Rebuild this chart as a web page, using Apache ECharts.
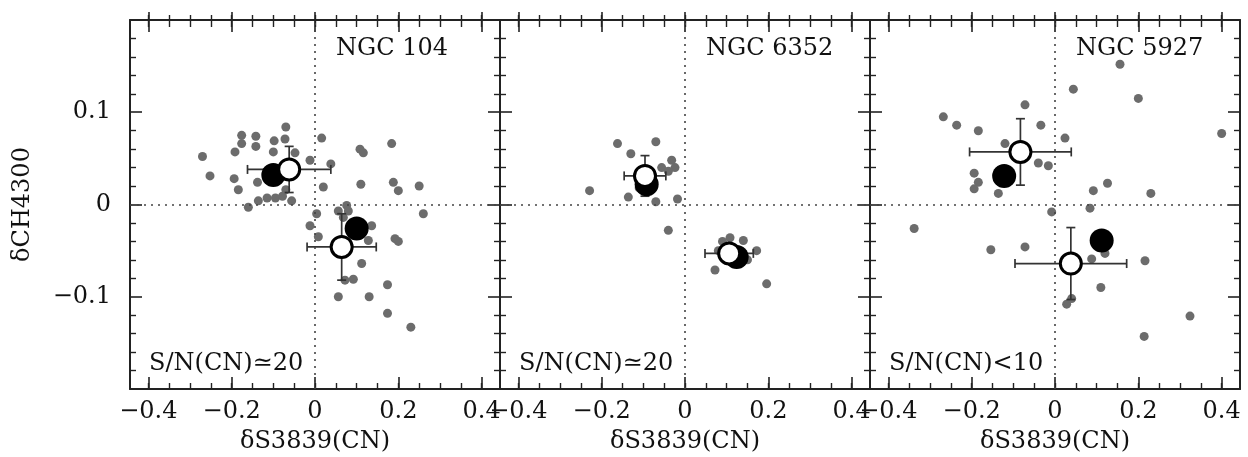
<!DOCTYPE html>
<html>
<head>
<meta charset="utf-8">
<script src="https://cdn.jsdelivr.net/npm/echarts@6/dist/echarts.min.js"></script>
<style>
html,body{margin:0;padding:0;background:#fff;}
#chart{width:1248px;height:457px;}
</style>
</head>
<body>
<div id="chart"></div>
<script>
// ---------- data ----------
const panelNames = ['NGC 104', 'NGC 6352', 'NGC 5927'];
const snLabels = ['S/N(CN)\u224320', 'S/N(CN)\u224320', 'S/N(CN)<10'];
const xTitle = '\u03b4S3839(CN)';
const yTitle = '\u03b4CH4300';
const xMajorTicks = [-0.4, -0.2, 0, 0.2, 0.4];
const xMinorTicks = [-0.4, -0.35, -0.3, -0.25, -0.2, -0.15, -0.1, -0.05, 0, 0.05, 0.1, 0.15, 0.2, 0.25, 0.3, 0.35, 0.4];
const yTickLabels = [-0.1, 0, 0.1];

// NGC 104 stars
const stars104 = [
  [-0.270, 0.052], [-0.252, 0.031], [-0.176, 0.075], [-0.176, 0.066], [-0.142, 0.074],
  [-0.142, 0.063], [-0.192, 0.057], [-0.194, 0.028], [-0.184, 0.016], [-0.138, 0.024],
  [-0.098, 0.069], [-0.070, 0.084], [-0.072, 0.071], [-0.100, 0.057], [-0.048, 0.056],
  [-0.160, -0.003], [-0.136, 0.004], [-0.115, 0.007], [-0.095, 0.007], [-0.078, 0.009],
  [-0.056, 0.004], [-0.070, 0.016], [-0.012, 0.048], [0.016, 0.072], [0.038, 0.044],
  [0.020, 0.019], [0.108, 0.060], [0.116, 0.056], [0.184, 0.066], [0.110, 0.022],
  [0.188, 0.024], [0.200, 0.015], [0.250, 0.020], [0.260, -0.010], [0.004, -0.010],
  [-0.012, -0.023], [0.008, -0.035], [0.056, -0.007], [0.076, -0.001], [0.080, -0.007],
  [0.068, -0.014], [0.136, -0.023], [0.128, -0.039], [0.192, -0.037], [0.200, -0.040],
  [0.112, -0.064], [0.072, -0.082], [0.092, -0.081], [0.174, -0.087], [0.056, -0.100],
  [0.130, -0.100], [0.174, -0.118], [0.230, -0.133]
];
const filled104 = [[-0.100, 0.032], [0.100, -0.026]];
const open104 = [[-0.062, 0.038, 0.100, 0.025], [0.064, -0.046, 0.083, 0.036]];

// NGC 6352 stars
const stars6352 = [
  [-0.162, 0.066], [-0.070, 0.068], [-0.130, 0.055], [-0.229, 0.015], [-0.136, 0.008],
  [-0.070, 0.003], [-0.018, 0.006], [-0.040, -0.028], [-0.056, 0.040], [-0.032, 0.048],
  [-0.024, 0.040], [-0.040, 0.036], [-0.110, 0.018], [-0.080, 0.020],
  [0.072, -0.071], [0.196, -0.086], [0.108, -0.036], [0.140, -0.039], [0.172, -0.050],
  [0.090, -0.040], [0.150, -0.060], [0.080, -0.050]
];
const filled6352 = [[-0.092, 0.022], [0.124, -0.057]];
const open6352 = [[-0.096, 0.031, 0.050, 0.022], [0.106, -0.053, 0.058, 0.008]];

// NGC 5927 stars
const stars5927 = [
  [0.156, 0.152], [0.044, 0.125], [0.200, 0.115], [-0.072, 0.108], [-0.268, 0.095],
  [-0.236, 0.086], [-0.184, 0.080], [-0.034, 0.086], [0.400, 0.077], [0.024, 0.072],
  [-0.120, 0.066], [-0.040, 0.045], [-0.016, 0.042], [-0.194, 0.034], [-0.184, 0.024],
  [-0.194, 0.017], [-0.136, 0.012], [0.126, 0.023], [0.092, 0.015], [0.230, 0.012],
  [0.084, -0.004], [-0.008, -0.008], [-0.338, -0.026], [-0.154, -0.049], [-0.072, -0.046],
  [0.088, -0.059], [0.120, -0.053], [0.216, -0.061], [0.110, -0.090], [0.028, -0.108],
  [0.040, -0.102], [0.324, -0.121], [0.214, -0.143]
];
const filled5927 = [[-0.122, 0.031], [0.112, -0.039]];
const open5927 = [[-0.083, 0.057, 0.122, 0.036], [0.038, -0.064, 0.134, 0.039]];

const starsAll = [stars104, stars6352, stars5927];
const filledAll = [filled104, filled6352, filled5927];
const openAll = [open104, open6352, open5927];

// ---------- layout / style ----------
const FONT = 'DejaVu Serif';
const TXT = '#111';
const LINE = '#222';
const X_MIN = -0.444, X_MAX = 0.444;
const PANEL_LEFT = 130, PANEL_W = 370, PANEL_TOP = 20, PANEL_H = 369;

function fmt(v) {
  if (Math.abs(v) < 1e-9) return '0';
  return String(+v.toFixed(2)).replace('-', '\u2212');
}

const grids = [], xAxes = [], yAxes = [], series = [], graphics = [];

for (let i = 0; i < 3; i++) {
  grids.push({left: PANEL_LEFT + PANEL_W * i, top: PANEL_TOP, width: PANEL_W, height: PANEL_H,
              containLabel: false, outerBoundsMode: 'none'});
  const xBase = {type: 'value', gridIndex: i, min: X_MIN, max: X_MAX, splitLine: {show: false}};
  xAxes.push(Object.assign({}, xBase, {
    position: 'bottom',
    axisLine: {show: true, onZero: false, lineStyle: {color: LINE, width: 2}},
    axisTick: {show: true, inside: true, length: 12, customValues: xMajorTicks, lineStyle: {color: LINE, width: 1.6}},
    axisLabel: {show: true, customValues: xMajorTicks, formatter: fmt, margin: 11,
                fontFamily: FONT, fontSize: 24, color: TXT},
    name: xTitle, nameLocation: 'middle', nameGap: 41,
    nameTextStyle: {fontFamily: FONT, fontSize: 24, color: TXT}
  }));
  xAxes.push(Object.assign({}, xBase, {
    position: 'bottom',
    axisLine: {show: false, onZero: false},
    axisTick: {show: true, inside: true, length: 6, customValues: xMinorTicks, lineStyle: {color: LINE, width: 1.4}},
    axisLabel: {show: false}
  }));
  xAxes.push(Object.assign({}, xBase, {
    position: 'top',
    axisLine: {show: true, onZero: false, lineStyle: {color: LINE, width: 2}},
    axisTick: {show: true, inside: true, length: 12, customValues: xMajorTicks, lineStyle: {color: LINE, width: 1.6}},
    axisLabel: {show: false}
  }));
  xAxes.push(Object.assign({}, xBase, {
    position: 'top',
    axisLine: {show: false, onZero: false},
    axisTick: {show: true, inside: true, length: 7, customValues: xMinorTicks, lineStyle: {color: LINE, width: 1.4}},
    axisLabel: {show: false}
  }));
  xAxes.push(Object.assign({}, xBase, {
    position: 'top',
    axisLine: {show: false, onZero: false},
    axisTick: {show: true, inside: false, length: 8, customValues: xMajorTicks, lineStyle: {color: LINE, width: 1.6}},
    axisLabel: {show: false}
  }));
  xAxes.push(Object.assign({}, xBase, {
    position: 'top',
    axisLine: {show: false, onZero: false},
    axisTick: {show: true, inside: false, length: 5, customValues: xMinorTicks, lineStyle: {color: LINE, width: 1.4}},
    axisLabel: {show: false}
  }));

  const yBase = {type: 'value', gridIndex: i, min: -0.2, max: 0.2, interval: 0.1, splitLine: {show: false},
                 axisLine: {show: true, onZero: false, lineStyle: {color: LINE, width: 2}},
                 axisTick: {show: true, inside: true, length: 12, lineStyle: {color: LINE, width: 1.6}},
                 minorTick: {show: true, splitNumber: 5, length: 6, lineStyle: {color: LINE, width: 1.4}}};
  yAxes.push(Object.assign({}, yBase, {
    position: 'left',
    axisLabel: i === 0 ? {show: true, customValues: yTickLabels, formatter: fmt, margin: 19,
                          fontFamily: FONT, fontSize: 24, color: TXT} : {show: false},
    name: i === 0 ? yTitle : '', nameLocation: 'middle', nameGap: 95,
    nameTextStyle: {fontFamily: FONT, fontSize: 24, color: TXT}
  }));
  yAxes.push(Object.assign({}, yBase, {position: 'right', axisLabel: {show: false}}));

  const xi = 6 * i, yi = 2 * i;
  series.push({
    type: 'scatter', xAxisIndex: xi, yAxisIndex: yi, data: starsAll[i],
    symbol: 'circle', symbolSize: 9, itemStyle: {color: '#6c6c6c', opacity: 1}, z: 2,
    markLine: {
      silent: true, symbol: ['none', 'none'], label: {show: false},
      lineStyle: {color: '#444', width: 1.6, type: [2, 5]},
      data: [{xAxis: 0}, {yAxis: 0}]
    }
  });
  series.push({
    type: 'custom', xAxisIndex: xi, yAxisIndex: yi, data: openAll[i], z: 3,
    encode: {x: 0, y: 1},
    renderItem: function (params, api) {
      const x = api.value(0), y = api.value(1), ex = api.value(2), ey = api.value(3);
      const l = api.coord([x - ex, y]), r = api.coord([x + ex, y]);
      const b = api.coord([x, y - ey]), t = api.coord([x, y + ey]);
      const c = 4.5;
      const st = {stroke: '#333', lineWidth: 1.7};
      const mk = (x1, y1, x2, y2) => ({type: 'line', shape: {x1, y1, x2, y2}, style: st});
      return {type: 'group', children: [
        mk(l[0], l[1], r[0], r[1]),
        mk(l[0], l[1] - c, l[0], l[1] + c),
        mk(r[0], r[1] - c, r[0], r[1] + c),
        mk(b[0], b[1], t[0], t[1]),
        mk(b[0] - c, b[1], b[0] + c, b[1]),
        mk(t[0] - c, t[1], t[0] + c, t[1])
      ]};
    }
  });
  series.push({
    type: 'scatter', xAxisIndex: xi, yAxisIndex: yi, data: filledAll[i],
    symbol: 'circle', symbolSize: 24, itemStyle: {color: '#000', opacity: 1}, z: 4
  });
  series.push({
    type: 'scatter', xAxisIndex: xi, yAxisIndex: yi, data: openAll[i].map(d => [d[0], d[1]]),
    symbol: 'circle', symbolSize: 21, itemStyle: {color: '#fff', borderColor: '#000', borderWidth: 3, opacity: 1}, z: 5
  });

  graphics.push({type: 'text', left: PANEL_LEFT + PANEL_W * i + 206, top: 37, z: 10,
                 style: {text: panelNames[i], font: '24px "' + FONT + '"', fill: TXT}});
  graphics.push({type: 'text', left: PANEL_LEFT + PANEL_W * i + 19, top: 352, z: 10,
                 style: {text: snLabels[i], font: '24px "' + FONT + '"', fill: TXT}});
}

const chart = echarts.init(document.getElementById('chart'), null, {renderer: 'canvas'});
chart.setOption({
  animation: false,
  backgroundColor: '#fff',
  grid: grids,
  xAxis: xAxes,
  yAxis: yAxes,
  series: series,
  graphic: graphics
});
</script>
</body>
</html>
